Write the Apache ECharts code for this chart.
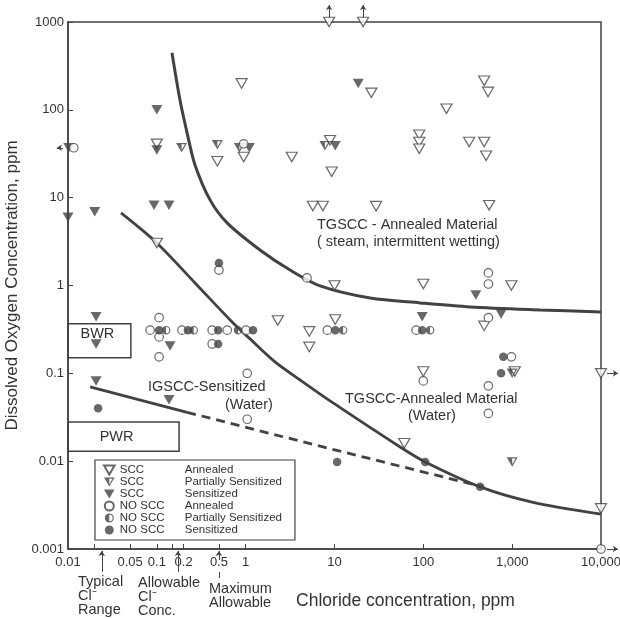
<!DOCTYPE html>
<html>
<head>
<meta charset="utf-8">
<script src="https://cdn.jsdelivr.net/npm/echarts@6/dist/echarts.min.js"></script>
<style>
  html, body { margin: 0; padding: 0; background: #fff; }
  #chart { width: 620px; height: 619px; }
</style>
</head>
<body>
<div id="chart"></div>
<script>
  // axis ticks / labels
  const xLabelValues = [0.01, 0.05, 0.1, 0.2, 0.5, 1, 10, 100, 1000, 10000];
  const xTickValues = [0.01, 0.02, 0.05, 0.1, 0.15, 0.2, 0.5, 1, 10, 100, 1000, 10000];

  // markers: [chloride ppm, dissolved oxygen ppm]
  const sccAnnealed = [
    [0.9, 200], [0.95, 29], [0.48, 26], [3.3, 29], [8.7, 1000], [21, 1000], [26, 156],
    [182, 103], [484, 214], [535, 160], [8.9, 45], [9.3, 19.7], [90, 52], [90, 43], [90, 36],
    [328, 43], [484, 43], [509, 30], [5.7, 8.05], [7.4, 8.05], [29.4, 8], [550, 8.2],
    [0.1, 3.05], [10, 1.0], [100, 1.04], [980, 1.0], [484, 0.347], [2.3, 0.4], [5.2, 0.3],
    [5.2, 0.2], [10.2, 0.41], [100, 0.105], [1070, 0.105], [10000, 0.1], [61, 0.016],
    [10000, 0.0029], [0.1, 41]
  ];
  const sccPartial = [
    [0.19, 37], [0.48, 40], [0.85, 37], [7.8, 39], [1000, 0.0098], [1000, 0.1]
  ];
  const sccSensitized = [
    [0.1, 100], [0.1, 35], [1.1, 37], [10.2, 39], [18.5, 200], [0.0102, 37], [0.02, 6.9],
    [0.01, 6.0], [0.093, 8.2], [0.137, 8.2], [390, 0.78], [751, 0.475], [97, 0.44],
    [0.0207, 0.44], [0.0207, 0.216], [0.141, 0.205], [0.0207, 0.082], [0.137, 0.05]
  ];
  const noSccAnnealed = [
    [0.0116, 37], [0.95, 41], [4.9, 1.22], [540, 1.39], [540, 1.04], [540, 0.43],
    [0.106, 0.43], [0.084, 0.31], [0.106, 0.26], [0.106, 0.154], [0.192, 0.31], [0.42, 0.31],
    [0.62, 0.31], [1.01, 0.31], [0.42, 0.216], [1.04, 0.1], [1.04, 0.03], [8.3, 0.31],
    [83, 0.31], [0.5, 1.5], [980, 0.154], [540, 0.072], [540, 0.035], [100, 0.082],
    [10000, 0.001]
  ];
  const noSccPartial = [
    [0.127, 0.31], [0.26, 0.31], [0.82, 0.31], [12.5, 0.31], [119, 0.31]
  ];
  const noSccSensitized = [
    [0.106, 0.31], [0.224, 0.31], [0.49, 0.31], [1.21, 0.31], [0.49, 0.216], [0.5, 1.8],
    [10.2, 0.31], [97, 0.31], [795, 0.154], [750, 0.1], [0.0218, 0.04], [10.7, 0.0098],
    [105, 0.0098], [436, 0.0051]
  ];

  // boundary curves
  const steamCurve = [
    [0.148, 446], [0.182, 130], [0.219, 54.7], [0.269, 23.6], [0.397, 9.44], [0.618, 5.17],
    [1.45, 2.54], [3.16, 1.5], [6.88, 0.99], [25.2, 0.72], [92, 0.634], [336, 0.57],
    [2065, 0.527], [10000, 0.5]
  ];
  const waterCurve = [
    [0.0395, 6.7], [0.1, 3.05], [0.269, 1.07], [0.703, 0.385], [1.06, 0.26], [2.14, 0.135],
    [4.1, 0.084], [9.64, 0.046], [54.8, 0.0145], [105, 0.0098], [436, 0.0051],
    [1722, 0.0034], [10000, 0.0025]
  ];
  const igsccSolid = [[0.0177, 0.07], [0.219, 0.036]];
  const igsccDashed = [[0.219, 0.036], [6.9, 0.0148], [468, 0.0051]];

  // reactor water boxes
  const bwrBox = [[0.01, 0.366], [0.051, 0.15]];
  const pwrBox = [[0.01, 0.028], [0.178, 0.013]];

  // arrows at the frame and below the axis
  const arrows = [
    [[8.7, 1110], [8.7, 1560]],
    [[21, 1110], [21, 1560]],
    [[0.0088, 37], [0.0075, 37]],
    [[11700, 0.1], [15500, 0.1]],
    [[11700, 0.001], [15500, 0.001]],
    [[0.024, 0.00055], [0.024, 0.00095]],
    [[0.173, 0.00055], [0.173, 0.00095]],
    [[0.5, 0.00075], [0.5, 0.00095]]
  ];
  const stubs = [[[0.5, 0.000468], [0.5, 0.000547]]];

  const ink = '#424242';
  const textColor = '#333';
  const font = 'Liberation Sans, Arial, sans-serif';

  const triPath = 'path://M0,0L20,0L10,17Z';
  const triHalfPath = 'path://M0,0L20,0L10,17ZM3.85,2.2L10,12.66L16.15,2.2ZM3.85,2.2L10,2.2L10,12.66Z';
  const circHalfPath = 'path://M10,0A10,10,0,1,1,10,20A10,10,0,1,1,10,0ZM10,2.6A7.4,7.4,0,1,0,10,17.4A7.4,7.4,0,1,0,10,2.6ZM10,2.6A7.4,7.4,0,0,0,10,17.4Z';
  const triSize = [11, 9.5];
  const circSize = 8.5;

  const chart = echarts.init(document.getElementById('chart'));

  const scatter = (name, data, symbol, size, style) => ({
    name,
    type: 'scatter',
    data,
    symbol,
    symbolSize: size,
    itemStyle: style,
    z: 4,
    clip: false,
  });
  const openStyle = { color: '#fff', borderColor: ink, borderWidth: 1.2 };
  const fillStyle = { color: ink };

  const note = (text, x, y, size) => ({
    type: 'text',
    x,
    y,
    style: { text, fill: textColor, fontSize: size || 14.5, fontFamily: font, verticalAlign: 'middle' },
  });

  const option = {
    animation: false,
    backgroundColor: '#fff',
    textStyle: { fontFamily: font },
    grid: {
      left: 68,
      right: 19,
      top: 22,
      bottom: 70,
      outerBoundsMode: 'none',
      containLabel: false,
      show: true,
      borderColor: ink,
      borderWidth: 1.5,
      backgroundColor: 'transparent',
    },
    xAxis: {
      type: 'log',
      logBase: 10,
      min: 0.01,
      max: 10000,
      name: 'Chloride concentration, ppm',
      nameLocation: 'middle',
      nameGap: 43,
      nameTextStyle: { fontSize: 17.5, color: textColor, padding: [0, 0, 0, 142] },
      axisLine: { lineStyle: { color: ink, width: 1.5 } },
      axisTick: { inside: true, length: 5, lineStyle: { color: ink }, customValues: xTickValues },
      axisLabel: {
        fontSize: 13,
        color: textColor,
        margin: 7,
        customValues: xLabelValues,
        formatter: (v) => {
          const n = parseFloat(Number(v).toPrecision(2));
          return n >= 1000 ? n.toLocaleString('en-US') : String(n);
        },
      },
      splitLine: { show: false },
      minorTick: { show: false },
    },
    yAxis: {
      type: 'log',
      logBase: 10,
      min: 0.001,
      max: 1000,
      name: 'Dissolved Oxygen Concentration, ppm',
      nameLocation: 'middle',
      nameGap: 38,
      nameTextStyle: { fontSize: 17, color: textColor },
      axisLine: { show: true, lineStyle: { color: ink, width: 1.5 } },
      axisTick: { inside: true, length: 5, lineStyle: { color: ink } },
      axisLabel: {
        fontSize: 13,
        color: textColor,
        margin: 4,
        formatter: (v) => String(parseFloat(Number(v).toPrecision(2))),
      },
      splitLine: { show: false },
    },
    legend: {
      orient: 'vertical',
      left: 95,
      top: 460,
      padding: [4, 13, 4, 8],
      itemGap: 0,
      itemWidth: 11,
      itemHeight: 9,
      borderColor: ink,
      borderWidth: 1.2,
      backgroundColor: '#fff',
      data: ['SCC|Annealed', 'SCC|Partially Sensitized', 'SCC|Sensitized',
        'NO SCC|Annealed', 'NO SCC|Partially Sensitized', 'NO SCC|Sensitized'],
      formatter: (name) => {
        const parts = name.split('|');
        return '{a|' + parts[0] + '}{b|' + parts[1] + '}';
      },
      textStyle: {
        color: textColor,
        fontSize: 11.5,
        lineHeight: 11.5,
        rich: {
          a: { width: 65, fontSize: 11.5, color: textColor },
          b: { fontSize: 11.5, color: textColor },
        },
      },
    },
    series: [
      {
        name: 'steam',
        type: 'line',
        data: steamCurve,
        smooth: 0.3,
        symbol: 'none',
        lineStyle: { color: ink, width: 3 },
        z: 2,
      },
      {
        name: 'water',
        type: 'line',
        data: waterCurve,
        smooth: 0.3,
        symbol: 'none',
        lineStyle: { color: ink, width: 2.8 },
        z: 2,
      },
      {
        name: 'igscc',
        type: 'line',
        data: igsccSolid,
        symbol: 'none',
        lineStyle: { color: ink, width: 2.8 },
        z: 2,
        markArea: {
          silent: true,
          itemStyle: { color: 'rgba(0,0,0,0)', borderColor: ink, borderWidth: 1.5 },
          label: { show: true, color: textColor, fontSize: 14.5, fontFamily: font },
          data: [
            [
              { name: 'BWR', coord: bwrBox[0], label: { position: 'insideTop', distance: 3, offset: [-2, 0] } },
              { coord: bwrBox[1] },
            ],
            [
              { name: 'PWR', coord: pwrBox[0], label: { position: 'inside', offset: [-7, 0] } },
              { coord: pwrBox[1] },
            ],
          ],
        },
      },
      {
        name: 'igsccDashed',
        type: 'line',
        data: igsccDashed,
        symbol: 'none',
        lineStyle: { color: ink, width: 2.8, type: [9, 6] },
        z: 2,
      },
      scatter('SCC|Annealed', sccAnnealed, triPath, triSize, openStyle),
      scatter('SCC|Partially Sensitized', sccPartial, triHalfPath, triSize, fillStyle),
      scatter('SCC|Sensitized', sccSensitized, triPath, triSize, fillStyle),
      scatter('NO SCC|Annealed', noSccAnnealed, 'circle', circSize, openStyle),
      scatter('NO SCC|Partially Sensitized', noSccPartial, circHalfPath, circSize, fillStyle),
      scatter('NO SCC|Sensitized', noSccSensitized, 'circle', circSize, fillStyle),
      {
        name: 'arrows',
        type: 'lines',
        coordinateSystem: 'cartesian2d',
        clip: false,
        symbol: ['none', 'arrow'],
        symbolSize: 5,
        lineStyle: { color: ink, width: 1, opacity: 1 },
        data: arrows.map((c) => ({ coords: c })),
        z: 3,
      },
      {
        name: 'stubs',
        type: 'lines',
        coordinateSystem: 'cartesian2d',
        clip: false,
        symbol: 'none',
        lineStyle: { color: ink, width: 1, opacity: 1 },
        data: stubs.map((c) => ({ coords: c })),
        z: 3,
      },
    ],
    graphic: [
      note('TGSCC - Annealed Material', 317, 225),
      note('( steam, intermittent wetting)', 317, 242),
      note('IGSCC-Sensitized', 148, 387),
      note('(Water)', 225, 405),
      note('TGSCC-Annealed Material', 345, 399),
      note('(Water)', 408, 416),
      note('Typical', 78, 582),
      note('Cl\u207B', 78, 596),
      note('Range', 78, 610),
      note('Allowable', 138, 583),
      note('Cl\u207B', 138, 597),
      note('Conc.', 138, 611),
      note('Maximum', 209, 589),
      note('Allowable', 209, 603),
    ],
  };

  chart.setOption(option);
</script>
</body>
</html>
